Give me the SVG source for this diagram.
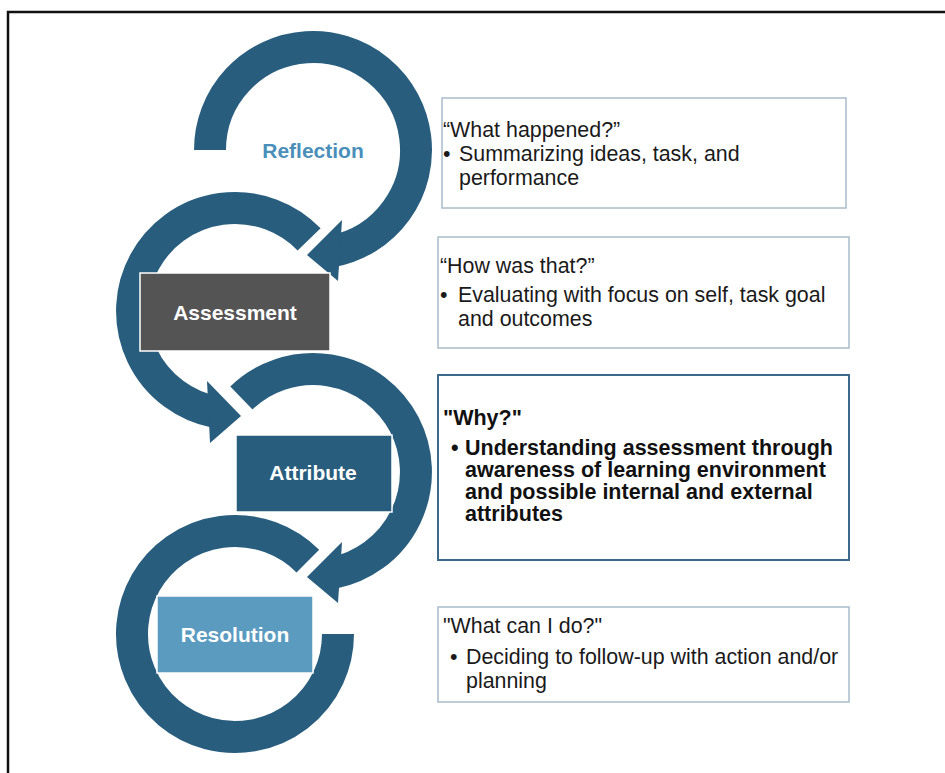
<svg xmlns="http://www.w3.org/2000/svg" width="945" height="773" viewBox="0 0 945 773">
<style>
.ring{fill:none;stroke:#285d7e;stroke-width:32;stroke-linecap:butt}
.head{fill:#285d7e}
.lbl{font-family:"Liberation Sans",Arial,sans-serif;font-weight:bold;font-size:21px;text-anchor:middle;fill:#ffffff}
.box{fill:#ffffff;stroke:#a9bccb;stroke-width:1.5}
.box3{fill:#ffffff;stroke:#3c6a8a;stroke-width:2}
.t{font-family:"Liberation Sans",Arial,sans-serif;font-size:21.4px;fill:#1a1a1a}
.tb{font-family:"Liberation Sans",Arial,sans-serif;font-size:21.5px;font-weight:bold;fill:#111111}
</style>
<rect x="0" y="0" width="945" height="773" fill="#ffffff"/>
<rect x="8" y="12" width="960" height="800" fill="none" stroke="#111111" stroke-width="2.5"/>
<g id="connectors">
  <path class="ring" d="M210,150 A103,103 0 1 1 332.65,251.1"/>
  <polygon class="head" points="342,220 307,255 338,281"/>
  <path class="ring" d="M309.1,239.4 A103,103 0 1 0 215.35,412.1"/>
  <polygon class="head" points="207,381 241,416 210,443"/>
  <path class="ring" d="M241.4,397.9 A103,103 0 1 1 332.65,573.1"/>
  <polygon class="head" points="342,542 307,577 338,603"/>
  <path class="ring" d="M307.83,561.17 A103,103 0 1 0 338,634"/>
</g>
<g id="reflection">
  <text x="313" y="158" class="lbl" style="fill:#4a8fba">Reflection</text>
</g>
<g id="assessment">
  <rect x="140" y="273" width="190" height="78" fill="#545454" stroke="#ffffff" stroke-width="1.5"/>
  <text x="235" y="320" class="lbl">Assessment</text>
</g>
<g id="attribute">
  <rect x="236" y="435" width="156" height="77" fill="#285d7e" stroke="#ffffff" stroke-width="1.5"/>
  <text x="313" y="480" class="lbl">Attribute</text>
</g>
<g id="resolution">
  <rect x="157" y="596" width="156" height="77" fill="#5b9bc0" stroke="#ffffff" stroke-width="1.5"/>
  <text x="235" y="642" class="lbl">Resolution</text>
</g>
<g id="desc-reflection">
  <rect x="442" y="98" width="404" height="110" class="box"/>
  <text x="443" y="137" class="t">“What happened?”</text>
  <text x="443" y="161" class="t">•</text>
  <text x="459" y="161" class="t">Summarizing ideas, task, and</text>
  <text x="459" y="185" class="t">performance</text>
</g>
<g id="desc-assessment">
  <rect x="438" y="237" width="411" height="111" class="box"/>
  <text x="440" y="273" class="t">“How was that?”</text>
  <text x="440" y="302" class="t">•</text>
  <text x="458" y="302" class="t">Evaluating with focus on self, task goal</text>
  <text x="458" y="326" class="t">and outcomes</text>
</g>
<g id="desc-attribute">
  <rect x="438" y="375" width="411" height="185" class="box3"/>
  <text x="443" y="425" class="tb">"Why?"</text>
  <text x="451" y="455" class="tb">•</text>
  <text x="465" y="455" class="tb">Understanding assessment through</text>
  <text x="465" y="477" class="tb">awareness of learning environment</text>
  <text x="465" y="499" class="tb">and possible internal and external</text>
  <text x="465" y="521" class="tb">attributes</text>
</g>
<g id="desc-resolution">
  <rect x="438" y="607" width="411" height="95" class="box"/>
  <text x="443" y="633" class="t">"What can I do?"</text>
  <text x="450" y="664" class="t">•</text>
  <text x="466" y="664" class="t">Deciding to follow-up with action and/or</text>
  <text x="466" y="688" class="t">planning</text>
</g>
</svg>
